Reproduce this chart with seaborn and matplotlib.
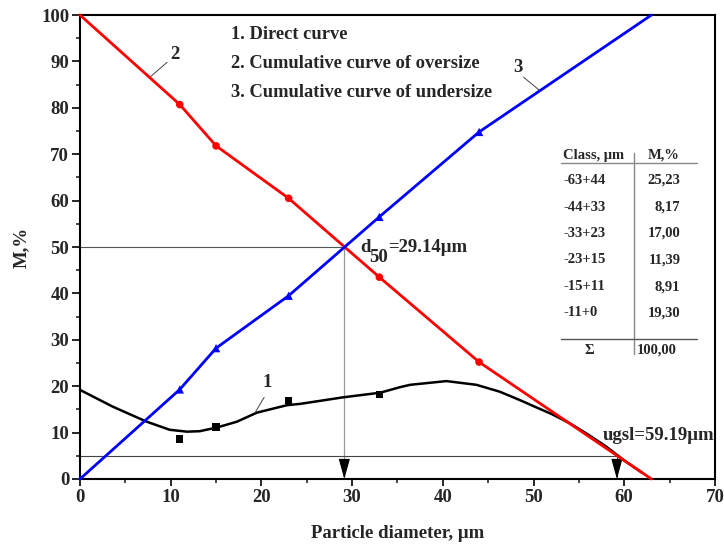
import matplotlib
matplotlib.use("Agg")
import matplotlib.pyplot as plt
import seaborn as sns
import pandas as pd
from matplotlib.ticker import MultipleLocator

# ---------------- data ----------------
sizes = [11, 15, 23, 33, 44]
oversize_pts = [80.7, 71.8, 60.5, 43.5, 25.2]
undersize_pts = [19.3, 28.2, 39.5, 56.5, 74.8]
direct_sizes = [11, 15, 23, 33]
direct_pts = [8.6, 11.2, 16.9, 18.2]

oversize_x = [0, 11, 15, 23, 33, 44, 63]
oversize_y = [100, 80.7, 71.8, 60.5, 43.5, 25.2, 0]
undersize_x = [0, 11, 15, 23, 33, 44, 63]
undersize_y = [0, 19.3, 28.2, 39.5, 56.5, 74.8, 100]

direct_curve_x = [0, 3.6, 7.35, 9.9, 11.8, 13.2, 15.1, 17.3, 19.5, 22.8, 24.3,
                  29.0, 33.1, 35.3, 36.4, 40.4, 43.7, 46.3, 48.5, 50, 52, 54,
                  56, 58, 60, 62]
direct_curve_y = [19.2, 15.6, 12.35, 10.6, 10.2, 10.3, 11.1, 12.35, 14.3, 15.9,
                  16.2, 17.6, 18.6, 19.8, 20.3, 21.1, 20.3, 18.8, 17.0, 15.7,
                  14.0, 12.0, 9.6, 7.0, 4.0, 1.3]

d50 = 29.14
ugsl = 59.19
ugsl_level = 5

class_labels = ["-63+44", "-44+33", "-33+23", "-23+15", "-15+11", "-11+0"]
class_mass = ["25,23", "8,17", "17,00", "11,39", "8,91", "19,30"]
total_mass = "100,00"

legend_lines = ["1. Direct curve",
                "2. Cumulative curve of oversize",
                "3. Cumulative curve of undersize"]

# ---------------- style ----------------
sns.set_style("ticks")
plt.rcParams['font.family'] = ['Liberation Serif', 'DejaVu Serif']
plt.rcParams['font.weight'] = 'bold'
plt.rcParams['axes.labelweight'] = 'bold'

fig = plt.figure(figsize=(7.24, 5.56), dpi=100)
ax = fig.add_axes([0.1105, 0.1385, 0.877, 0.8345])

RED = '#ff0000'
BLUE = '#0000ff'
FS = 13.5

# reference lines
ax.plot([0, d50], [50, 50], color='#555555', lw=0.8, zorder=1)
ax.plot([d50, d50], [50, 0], color='#999999', lw=0.9, zorder=1)
ax.plot([0, ugsl], [ugsl_level, ugsl_level], color='#444444', lw=0.8, zorder=1)
ax.plot([ugsl, ugsl], [ugsl_level, 0], color='#444444', lw=0.8, zorder=1)
for xv in (d50, ugsl):
    ax.annotate('', xy=(xv, 0), xytext=(xv, 3.2),
                arrowprops=dict(arrowstyle='-|>,head_length=0.9,head_width=0.25',
                                color='black', lw=0.8, shrinkA=0, shrinkB=0,
                                mutation_scale=14), zorder=3)

# curves
df_dir = pd.DataFrame({'x': direct_curve_x, 'y': direct_curve_y})
df_over = pd.DataFrame({'x': oversize_x, 'y': oversize_y})
df_under = pd.DataFrame({'x': undersize_x, 'y': undersize_y})

sns.lineplot(data=df_dir, x='x', y='y', color='black', lw=1.8, ax=ax,
             sort=False, estimator=None, zorder=2)
sns.lineplot(data=df_over, x='x', y='y', color=RED, lw=2, ax=ax,
             sort=False, estimator=None, zorder=4)
sns.lineplot(data=df_under, x='x', y='y', color=BLUE, lw=2, ax=ax,
             sort=False, estimator=None, zorder=4)
for line in ax.lines:
    line.set_clip_on(False)

sns.scatterplot(x=direct_sizes, y=direct_pts, marker='s', color='black',
                s=28, edgecolor='none', ax=ax, zorder=5)
sns.scatterplot(x=sizes, y=oversize_pts, marker='o', color=RED,
                s=30, edgecolor='none', ax=ax, zorder=5)
sns.scatterplot(x=sizes, y=undersize_pts, marker='^', color=BLUE,
                s=36, edgecolor='none', ax=ax, zorder=5)

# axes
ax.set_xlim(0, 70)
ax.set_ylim(0, 100)
ax.xaxis.set_major_locator(MultipleLocator(10))
ax.xaxis.set_minor_locator(MultipleLocator(5))
ax.yaxis.set_major_locator(MultipleLocator(10))
ax.yaxis.set_minor_locator(MultipleLocator(5))
ax.tick_params(axis='y', which='major', direction='out', length=5.8, width=1.4,
               labelsize=FS, pad=2, right=False)
ax.tick_params(axis='x', which='major', direction='out', length=5, width=1.4,
               labelsize=FS, pad=2, top=False)
ax.tick_params(which='minor', direction='out', length=3, width=1.2,
               top=False, right=False)
for lab in ax.get_xticklabels() + ax.get_yticklabels():
    lab.set_fontweight('bold')
for sp in ax.spines.values():
    sp.set_linewidth(1.5)
    sp.set_color('black')
ax.set_xlabel('Particle diameter, μm', fontsize=FS, fontweight='bold', labelpad=14)
ax.set_ylabel('M,%', fontsize=FS, fontweight='bold', labelpad=8)

# legend-like text
for i, t in enumerate(legend_lines):
    ax.text(16.6, 95.7 - i * 6.25, t, fontsize=13.3, fontweight='bold',
            va='center', ha='left')

# curve labels with leaders
ax.text(10.5, 91.4, '2', fontsize=FS, fontweight='bold', ha='center', va='center')
ax.plot([9.6, 7.7], [89.8, 86.6], color='#444444', lw=0.7)
ax.text(48.3, 88.6, '3', fontsize=FS, fontweight='bold', ha='center', va='center')
ax.plot([48.9, 50.7], [86.6, 83.7], color='#444444', lw=0.7)
ax.text(20.6, 20.9, '1', fontsize=FS, fontweight='bold', ha='center', va='center')
ax.plot([20.3, 19.3], [17.6, 14.3], color='#444444', lw=0.7)

# d50 annotation
ax.text(30.9, 48.9, 'd', fontsize=FS, fontweight='bold', va='baseline', ha='left')
ax.annotate('50', xy=(30.9, 48.9), xytext=(6.6, -7), textcoords='offset points',
            fontsize=FS, fontweight='bold', va='baseline', ha='left')
ax.annotate('=29.14μm', xy=(30.9, 48.9), xytext=(20.0, 0), textcoords='offset points',
            fontsize=FS, fontweight='bold', va='baseline', ha='left')

# ugsl annotation
ax.text(57.6, 8.4, 'ugsl=59.19μm', fontsize=FS, fontweight='bold',
        va='baseline', ha='left', clip_on=False)

# table
tfs = 10.5
ax.text(53.25, 69.8, 'Class, μm', fontsize=tfs, fontweight='bold', va='center', ha='left')
ax.text(62.6, 69.8, 'M,%', fontsize=tfs, fontweight='bold', va='center', ha='left')
ax.plot([53.0, 68.0], [68.1, 68.1], color='#888888', lw=1.0)
ax.plot([61.1, 61.1], [70.3, 26.9], color='#888888', lw=1.0)
ax.plot([53.0, 68.0], [30.2, 30.2], color='#555555', lw=1.0)
row_y = [64.4, 58.6, 53.0, 47.2, 41.4, 35.8]
for yv, c, m in zip(row_y, class_labels, class_mass):
    ax.text(53.25, yv, c, fontsize=tfs, fontweight='bold', va='center', ha='left')
    ax.text(66.2, yv, m, fontsize=tfs, fontweight='bold', va='center', ha='right')
ax.text(56.2, 27.8, 'Σ', fontsize=tfs, fontweight='bold', va='center', ha='center')
ax.text(61.4, 27.8, total_mass, fontsize=tfs, fontweight='bold', va='center', ha='left')

fig.savefig('out.png', dpi=100)
